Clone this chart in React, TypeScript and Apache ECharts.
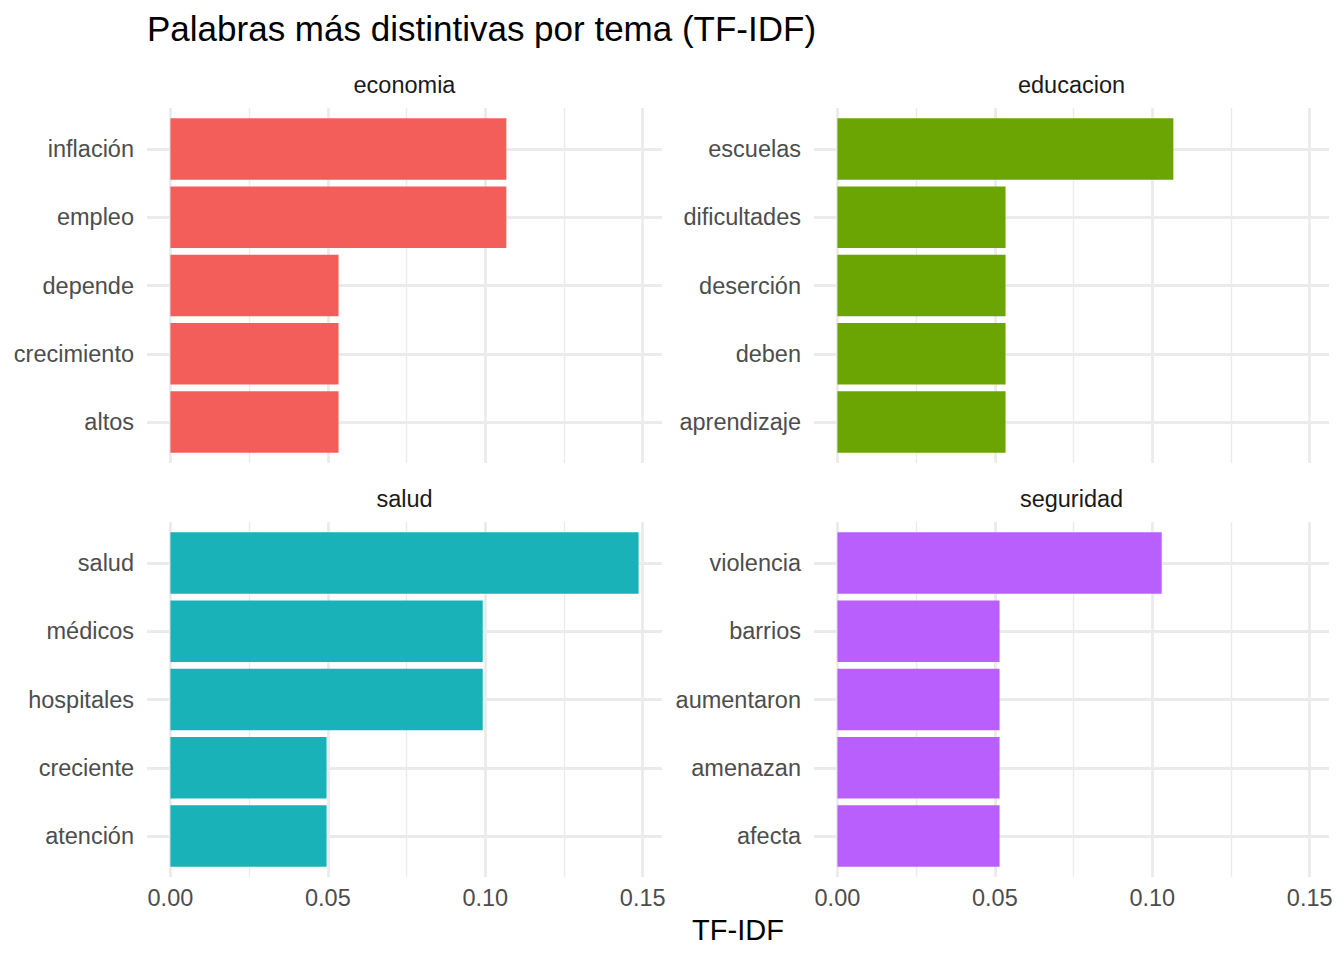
import React, { useEffect, useRef } from "react";
import * as echarts from "echarts";

const themes = ["economia", "educacion", "salud", "seguridad"];

const economiaWords = ["inflación", "empleo", "depende", "crecimiento", "altos"];
const economiaValues = [0.1067, 0.1067, 0.0534, 0.0534, 0.0534];

const educacionWords = ["escuelas", "dificultades", "deserción", "deben", "aprendizaje"];
const educacionValues = [0.1067, 0.0534, 0.0534, 0.0534, 0.0534];

const saludWords = ["salud", "médicos", "hospitales", "creciente", "atención"];
const saludValues = [0.1487, 0.0992, 0.0992, 0.0496, 0.0496];

const seguridadWords = ["violencia", "barrios", "aumentaron", "amenazan", "afecta"];
const seguridadValues = [0.103, 0.0515, 0.0515, 0.0515, 0.0515];

const themeColors = ["#F35E5B", "#6BA504", "#19B2B8", "#B95FFE"];

const titleText = "Palabras más distintivas por tema (TF-IDF)";
const xAxisTitle = "TF-IDF";

const FONT = '"Liberation Sans", Arial, Helvetica, sans-serif';

export default function App() {
  const ref = useRef<HTMLDivElement>(null);

  useEffect(() => {
    if (!ref.current) return;
    const chart = echarts.init(ref.current, undefined, { renderer: "svg" });

    const wordsList = [economiaWords, educacionWords, saludWords, seguridadWords];
    const valuesList = [economiaValues, educacionValues, saludValues, seguridadValues];

    const allMax = Math.max(...valuesList.flat());
    const xMin = -0.05 * allMax;
    const xMax = allMax * 1.05;
    const nCat = 5;
    const yMin = 1 - 0.6;
    const yMax = nCat + 0.6;

    const panelW = 515;
    const panelH = 355;
    const panelPos = [
      { left: 147, top: 108 },
      { left: 814, top: 108 },
      { left: 147, top: 522 },
      { left: 814, top: 522 },
    ];

    const grids = panelPos.map((p) => ({
      left: p.left,
      top: p.top,
      width: panelW,
      height: panelH,
      containLabel: false,
    }));

    const xAxes = panelPos.map((p, i) => ({
      type: "value",
      gridIndex: i,
      min: xMin,
      max: xMax,
      minInterval: 0.05,
      maxInterval: 0.05,
      axisLine: { show: false },
      axisTick: { show: false },
      minorTick: { show: false, splitNumber: 2 },
      axisLabel: {
        show: i >= 2,
        showMinLabel: false,
        showMaxLabel: false,
        margin: 8.5,
        fontSize: 23.5,
        lineHeight: 24,
        color: "#4D4D4D",
        fontFamily: FONT,
        formatter: (v: number) => (Math.abs(v - Math.round(v / 0.05) * 0.05) < 1e-9 ? v.toFixed(2) : ""),
      },
      splitLine: {
        show: true,
        showMinLine: false,
        showMaxLine: false,
        lineStyle: { color: "#EBEBEB", width: 2.8 },
      },
      minorSplitLine: {
        show: true,
        lineStyle: { color: "#EBEBEB", width: 1.4 },
      },
    }));

    const yAxes = panelPos.map((p, i) => ({
      type: "value",
      gridIndex: i,
      min: yMin,
      max: yMax,
      inverse: true,
      minInterval: 1,
      maxInterval: 1,
      axisLine: { show: false },
      axisTick: { show: false },
      axisLabel: {
        show: true,
        showMinLabel: false,
        showMaxLabel: false,
        margin: 13,
        fontSize: 23.5,
        color: "#4D4D4D",
        fontFamily: FONT,
        formatter: (v: number) => {
          const k = Math.round(v);
          if (Math.abs(v - k) > 1e-6) return "";
          return wordsList[i][k - 1] ?? "";
        },
      },
      splitLine: {
        show: true,
        showMinLine: false,
        showMaxLine: false,
        lineStyle: { color: "#EBEBEB", width: 2.8 },
      },
    }));

    const series = themes.map((t, i) => ({
      name: t,
      type: "custom",
      xAxisIndex: i,
      yAxisIndex: i,
      encode: { x: 0, y: 1 },
      data: valuesList[i].map((v, k) => [v, k + 1]),
      renderItem: (params: any, api: any) => {
        const v = api.value(0);
        const pos = api.value(1);
        const start = api.coord([0, pos]);
        const end = api.coord([v, pos]);
        const h = Math.abs(api.size([0, 0.9])[1]);
        return {
          type: "rect",
          shape: { x: start[0], y: start[1] - h / 2, width: end[0] - start[0], height: h },
          style: { fill: themeColors[i] },
        };
      },
    }));

    const stripTexts = themes.map((t, i) => {
      const p = panelPos[i];
      return {
        type: "text",
        x: p.left + panelW / 2,
        y: p.top - 23.4,
        style: {
          text: t,
          fontSize: 23.5,
          fontFamily: FONT,
          fill: "#1A1A1A",
          align: "center",
          verticalAlign: "middle",
        },
      };
    });

    chart.setOption({
      animation: false,
      backgroundColor: "#FFFFFF",
      grid: grids,
      xAxis: xAxes,
      yAxis: yAxes,
      series,
      graphic: [
        {
          type: "text",
          x: 147,
          y: 28,
          style: {
            text: titleText,
            fontSize: 35,
            fontFamily: FONT,
            fill: "#000000",
            align: "left",
            verticalAlign: "middle",
          },
        },
        ...stripTexts,
        {
          type: "text",
          x: 738,
          y: 930,
          style: {
            text: xAxisTitle,
            fontSize: 29,
            fontFamily: FONT,
            fill: "#000000",
            align: "center",
            verticalAlign: "middle",
          },
        },
      ],
    });

    return () => chart.dispose();
  }, []);

  return (
    <div
      ref={ref}
      style={{ position: "absolute", left: 0, top: 0, width: 1344, height: 960, background: "#fff" }}
    />
  );
}
